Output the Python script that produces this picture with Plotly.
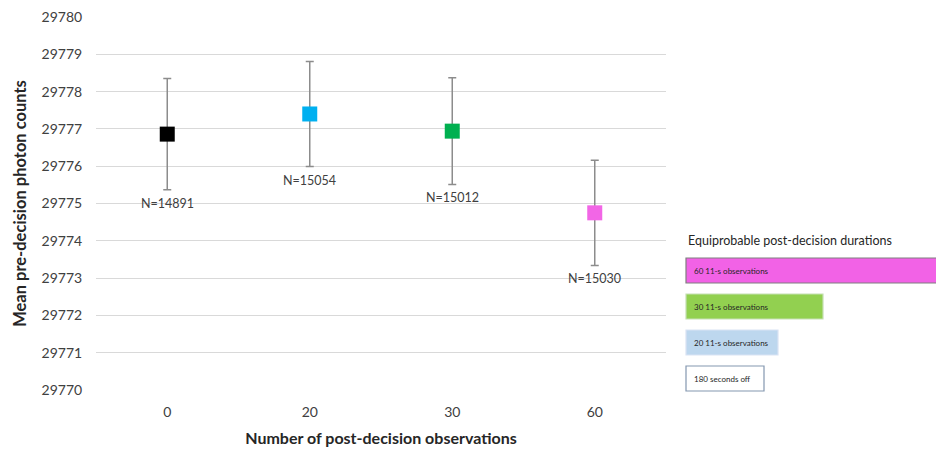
import plotly.graph_objects as go

categories = ["0", "20", "30", "60"]
means = [29776.86, 29777.40, 29776.94, 29774.75]
err = [1.49, 1.41, 1.43, 1.41]
n_labels = ["N=14891", "N=15054", "N=15012", "N=15030"]
marker_colors = ["#000000", "#00B0F0", "#00B050", "#F266E6"]

legend_title = "Equiprobable post-decision durations"
legend_labels = ["60 11-s observations", "30 11-s observations", "20 11-s observations", "180 seconds off"]
legend_fill = ["#F262E6", "#92D050", "#BDD7EE", "#FFFFFF"]
legend_line = ["#7F7F7F", "#C5E0B4", "#DAE3F3", "#8497B0"]

FONT = "Lato, 'Open Sans', sans-serif"

W, H = 936, 452
L, R, T, B = 96, 270, 17, 62
PW, PH = W - L - R, H - T - B


def px(x):
    return (x - L) / PW


def py(y):
    return (H - B - y) / PH


fig = go.Figure()
fig.add_trace(go.Scatter(
    x=categories, y=means, mode="markers",
    marker=dict(symbol="square", size=15, color=marker_colors),
    error_y=dict(type="data", array=err, visible=True, color="#8C8C8C", thickness=1.5, width=4),
    showlegend=False,
))

annotations = []
for i, (m, e, lab) in enumerate(zip(means, err, n_labels)):
    annotations.append(dict(x=i, y=m - e, text=lab, showarrow=False, yanchor="top",
                            yshift=-4, font=dict(family=FONT, size=12.5, color="#404040")))

annotations.append(dict(x=px(686), y=py(241), xref="paper", yref="paper", text=legend_title,
                        showarrow=False, xanchor="left", yanchor="middle",
                        font=dict(family=FONT, size=12.5, color="#262626")))

shapes = []
box_rights = [950, 823, 778, 764]
box_tops = [258, 294, 330, 366]
for lab, fc, lc, r, t in zip(legend_labels, legend_fill, legend_line, box_rights, box_tops):
    shapes.append(dict(type="rect", xref="paper", yref="paper",
                       x0=px(686), x1=px(r), y0=py(t), y1=py(t + 25),
                       fillcolor=fc, line=dict(color=lc, width=1.2)))
    annotations.append(dict(x=px(692), y=py(t + 12.5), xref="paper", yref="paper", text=lab,
                            showarrow=False, xanchor="left", yanchor="middle",
                            font=dict(family=FONT, size=8, color="#262626")))

fig.update_layout(
    width=W, height=H,
    margin=dict(l=L, r=R, t=T, b=B),
    plot_bgcolor="white", paper_bgcolor="white",
    font=dict(family=FONT, color="#404040"),
    annotations=annotations, shapes=shapes,
    xaxis=dict(type="category", range=[-0.5, 3.5], showgrid=False, showline=False, zeroline=False,
               automargin=False,
               ticks="outside", ticklen=9, tickcolor="rgba(0,0,0,0)",
               tickfont=dict(size=14, color="#404040"),
               title=dict(text="<b>Number of post-decision observations</b>", standoff=14,
                          font=dict(size=16, color="#262626"))),
    yaxis=dict(range=[29770, 29780], dtick=1, showgrid=True, gridcolor="#D9D9D9", gridwidth=1,
               zeroline=False, showline=False, tickformat="d", automargin=False,
               ticks="outside", ticklen=10, tickcolor="rgba(0,0,0,0)",
               tickfont=dict(size=14, color="#404040"),
               title=dict(text="<b>Mean pre-decision photon counts</b>", standoff=10,
                          font=dict(size=16.5, color="#262626"))),
)

fig.write_html("out.html")
